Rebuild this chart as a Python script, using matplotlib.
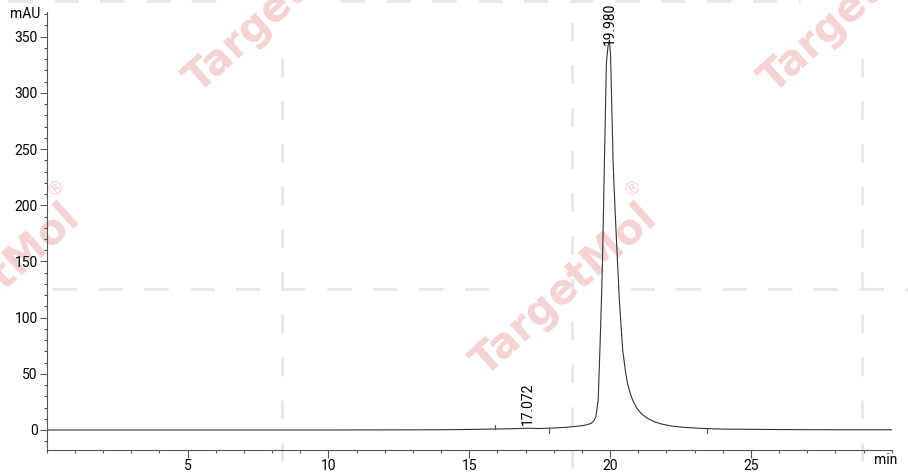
import matplotlib
matplotlib.use("Agg")
import matplotlib.pyplot as plt
from matplotlib.ticker import MultipleLocator, FixedLocator

# chromatogram trace (time in min, signal in mAU)
time_min = [0, 2, 4, 6, 8, 10, 12, 14, 15, 16, 16.5, 17.07, 17.5, 18, 18.5,
            19.0, 19.2, 19.33, 19.42, 19.50, 19.58, 19.64, 19.70, 19.74, 19.80,
            19.87, 19.93, 19.98, 20.02, 20.06, 20.11, 20.18, 20.24, 20.33, 20.45,
            20.55, 20.62, 20.70, 20.80, 20.95, 21.1, 21.3, 21.57, 21.8, 22.16,
            22.6, 23.2, 24, 26, 28, 30]
signal_mau = [0, 0, 0, 0, 0, 0, 0.1, 0.2, 0.5, 0.9, 1.1, 1.6, 1.3, 1.8, 2.5,
              3.8, 4.8, 6.0, 8.0, 11.9, 26.7, 71, 120, 160, 237.6,
              326.5, 342, 347, 332, 290, 237.6, 195, 163, 115.8, 71,
              52, 41.6, 34, 26.7, 19.5, 14.8, 10.8, 7.4, 5.5, 3.6,
              2.4, 1.5, 0.8, 0.4, 0.2, 0.2]

# integrated peaks
peak_times = [17.072, 19.980]
peak_heights = [1.6, 347]
peak_labels = ["17.072", "19.980"]

# peak start / end markers on the baseline
marker_times = [15.9, 17.85, 23.45]
marker_levels = [0.8, 1.6, 1.3]
marker_dirs = [1, -1, -1]

x_major = [5, 10, 15, 20, 25]
y_major = [0, 50, 100, 150, 200, 250, 300, 350]

W, H = 908, 472
fig = plt.figure(figsize=(W / 100, H / 100), dpi=100)
plt.rcParams["font.family"] = ["Roboto", "DejaVu Sans"]

# background layer in pixel coordinates for the watermark
bg = fig.add_axes([0, 0, 1, 1], zorder=0)
bg.set_xlim(0, W)
bg.set_ylim(H, 0)
bg.axis("off")
dash_col = "#e8e8e8"
for xv, y0 in [(282, 58), (572, 22), (862, 58)]:
    bg.plot([xv, xv], [y0, H], color=dash_col, lw=2.2, dashes=(6, 8))
bg.plot([52, 510], [289, 289], color=dash_col, lw=2.2, dashes=(8, 7))
bg.plot([630, W], [289, 289], color=dash_col, lw=2.2, dashes=(8, 7))
bg.plot([8, 225], [1, 1], color=dash_col, lw=2.2, dashes=(8, 7))
bg.plot([340, 800], [1, 1], color=dash_col, lw=2.2, dashes=(8, 7))
for cx, cy in [(-12, 290), (565, 290), (278, 7), (853, 7)]:
    bg.text(cx, cy, "TargetMol", rotation=42, ha="center", va="center",
            fontsize=30, fontweight="bold", color="#f5d3d3",
            family="DejaVu Sans", rotation_mode="anchor")
    bg.text(cx + 68, cy - 103, "\u00ae", rotation=42, ha="center", va="center",
            fontsize=13, color="#f5d3d3", family="DejaVu Sans")

ax = fig.add_axes([46.7 / W, 22 / H, 845 / W, 438 / H], zorder=1)
ax.patch.set_alpha(0)
ax.plot(time_min, signal_mau, color="#333333", lw=0.8)
for t, lv, d in zip(marker_times, marker_levels, marker_dirs):
    ax.plot([t, t], [lv, lv + 4 * d], color="#555555", lw=0.8)

for t, h, lab in zip(peak_times, peak_heights, peak_labels):
    ax.text(t, h - 4 if h > 100 else h + 2.5, lab, rotation=90, ha="center",
            va="bottom", fontsize=10, color="black")

ax.set_xlim(0, 30)
ax.set_ylim(-17.8, 372)
for s in ["top", "right"]:
    ax.spines[s].set_visible(False)
for s in ["left", "bottom"]:
    ax.spines[s].set_color("#555555")
    ax.spines[s].set_linewidth(0.8)

ax.xaxis.set_major_locator(FixedLocator(x_major))
ax.xaxis.set_minor_locator(MultipleLocator(1))
ax.yaxis.set_major_locator(FixedLocator(y_major))
ax.yaxis.set_minor_locator(MultipleLocator(10))
ax.tick_params(axis="x", which="major", length=6, width=0.8, color="#555555",
               labelsize=10, pad=0.5)
ax.tick_params(axis="x", which="minor", length=2.5, width=0.8, color="#555555")
ax.tick_params(axis="y", which="major", length=5, width=0.8, color="#555555",
               labelsize=10, pad=1.5)
ax.tick_params(axis="y", which="minor", length=2.2, width=0.8, color="#555555")

ax.annotate("mAU", xy=(0, 370), xytext=(-5, 0), textcoords="offset points",
            ha="right", va="center", fontsize=10)
ax.annotate("min", xy=(30, -17.8), xytext=(4, -2.5), textcoords="offset points",
            ha="right", va="top", fontsize=10)

fig.savefig("out.png", dpi=100)
